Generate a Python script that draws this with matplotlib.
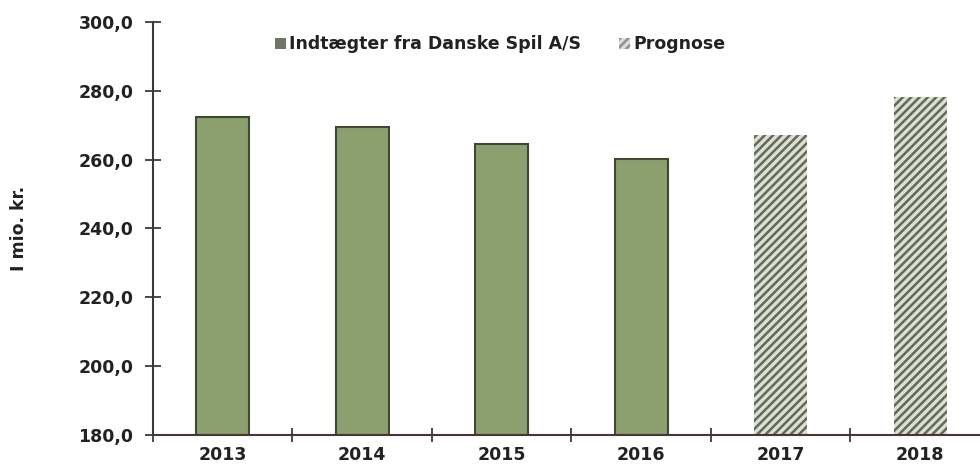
import matplotlib
matplotlib.use("Agg")
import matplotlib.pyplot as plt
from matplotlib.patches import Patch

# Data (i mio. kr.)
years = ["2013", "2014", "2015", "2016", "2017", "2018"]
actual = [272.4, 269.5, 264.6, 260.2, None, None]
forecast = [None, None, None, None, 267.2, 278.2]

label_actual = "Indtægter fra Danske Spil A/S"
label_forecast = "Prognose"
y_label = "I mio. kr."

green = "#8ba06e"
green_edge = "#3e4934"
hatch_col = "#656958"
hatch_bg = "#dcdfd4"
axis_col = "#3a3a3a"

plt.rcParams["font.family"] = "DejaVu Sans"
plt.rcParams["font.weight"] = "bold"
plt.rcParams["hatch.linewidth"] = 1.8

fig = plt.figure(figsize=(9.8, 4.7), dpi=100)
ax = fig.add_axes([0.156, 0.0745, 0.854, 0.879])

x = list(range(len(years)))
for i, v in enumerate(actual):
    if v is not None:
        ax.bar(i, v - 180, bottom=180, width=0.38, color=green,
               edgecolor=green_edge, linewidth=1.5)
for i, v in enumerate(forecast):
    if v is not None:
        ax.bar(i, v - 180, bottom=180, width=0.38, color=hatch_bg,
               edgecolor=hatch_col, hatch="////", linewidth=0)

yticks = [180, 200, 220, 240, 260, 280, 300]
ax.set_ylim(180, 300)
ax.set_xlim(-0.5, len(years) - 0.5)
ax.set_yticks(yticks)
ax.set_yticklabels([("%.1f" % t).replace(".", ",") for t in yticks])
ax.set_xticks([i + 0.5 for i in x[:-1]] + [-0.5])
ax.set_xticklabels([])
ax.set_xticks(x, minor=True)
ax.set_xticklabels(years, minor=True)
ax.tick_params(axis="x", which="minor", length=0, pad=8, labelsize=12.5, colors="#222222")
ax.tick_params(axis="x", which="major", direction="inout", length=10, width=1.3, color=axis_col)
ax.tick_params(axis="y", direction="inout", length=12, width=1.3, color=axis_col,
               labelsize=12.5, pad=8, labelcolor="#222222")

for s in ["top", "right"]:
    ax.spines[s].set_visible(False)
ax.spines["left"].set_color(axis_col)
ax.spines["left"].set_linewidth(1.5)
ax.spines["bottom"].set_color("#4a3434")
ax.spines["bottom"].set_linewidth(1.5)

fig.text(0.019, 0.5135, y_label, rotation=90, ha="center", va="center",
         fontsize=12.5, fontweight="bold", color="#222222")

handles = [Patch(facecolor="#6f7866", edgecolor="none", label=label_actual),
           Patch(facecolor="#dddddd", edgecolor="#909090", hatch="////", linewidth=0, label=label_forecast)]
ax.legend(handles=handles, loc="upper center", bbox_to_anchor=(0.415, 1.005), ncol=2,
          frameon=False, fontsize=12.5, handlelength=0.6, handleheight=0.6,
          handletextpad=0.2, columnspacing=2.2, labelcolor="#222222")

fig.savefig("out.png", dpi=100)
